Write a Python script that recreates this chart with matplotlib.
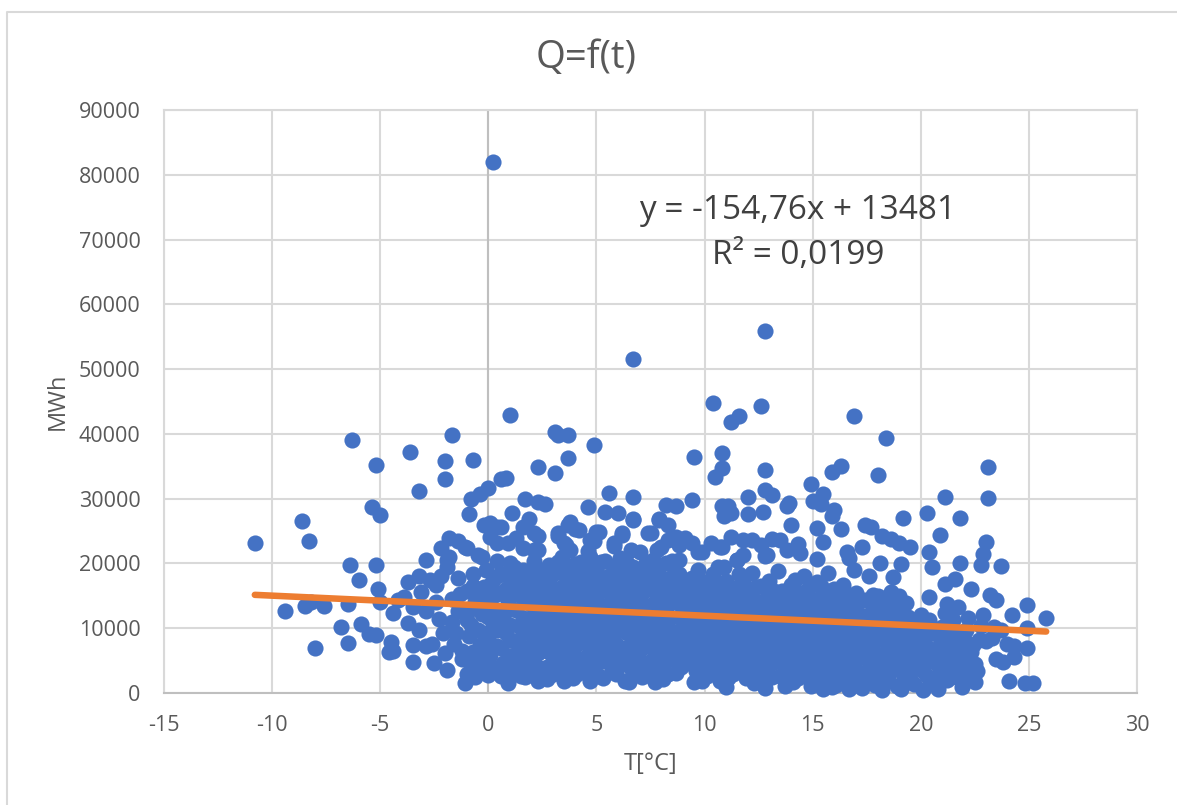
import matplotlib
matplotlib.use('Agg')
import matplotlib.pyplot as plt
from matplotlib.lines import Line2D

plt.rcParams['font.family'] = ['Open Sans', 'DejaVu Sans']
plt.rcParams['axes.unicode_minus'] = False

# scattered points above the dense area
upper = [(0.2,82000),(12.8,55900),(6.7,51500),(10.4,44700),(12.6,44300),(16.9,42700),(11.6,42700),(11.2,41900),
         (1,42900),(3.1,40300),(3.2,39900),(3.7,39900),(-1.7,39900),(-6.3,39000),(18.4,39300),(4.9,38300),
         (-3.6,37200),(10.8,37100),(9.5,36400),(3.7,36300),(-0.7,36000),(-2,35800),(-5.2,35200),(10.8,34800),
         (12.8,34500),(16.3,35000),(15.9,34100),(2.3,34900),(3.1,33900),(0.8,33200),(0.6,33100),(10.5,33300),
         (18,33700),(23.1,34900),(-2,33100),(-3.2,31200),(0.0,31600),(-0.4,30700),(-0.8,29900),(5.6,30800),
         (6.7,30300),(12.8,31400),(13.1,30500),(12,30300),(14.9,32200),(15.5,30700),(21.1,30300),(23.1,30100),
         (1.7,29900),(2.3,29500),(2.6,29200),(4.6,28700),(5.4,27900),(6,27800),(6.7,26800),(8.2,29000),
         (8.7,28800),(9.4,29800),(10.8,28800),(11.1,28900),(10.9,27400),(11.2,27800),(12,27700),(12.7,27900),
         (13.8,28800),(13.9,29300),(15,29700),(15.4,29100),(16,28200),(15.9,27300),(19.2,27000),(20.3,27800),
         (21.8,27000),(20.9,24400),(23,23300),(1.1,27800),(-0.9,27700),(-0.2,26000),(0.1,26300),(0.6,25700),
         (1.9,26900),(3.7,25900),(4,25300),(5,24800),(6.2,24400),(7.4,24700),(7.9,26800),(8.3,26000),(9.1,24000),
         (10.3,23100),(11.8,23600),(13.1,23800),(14,25900),(14.3,23000),(15.2,25500),(15.5,23300),(16.3,25300),
         (16.6,21700),(17.4,25900),(17.7,25600),(18.2,24200),(18.6,23700),(19,23200),(19.5,22600),(20.4,21700),
         (22.9,21500),(23.7,19600),(24.9,13600),(25.8,11600),(24.2,12000),(24.9,10000),(24.9,7000),(24.3,5600),
         (24.1,1800),(24.8,1500),(25.2,1600),(-2.2,22400),(-1.8,23900),(-1.4,23400),(-1,22400),(-2.9,20500),
         (-1.8,21000),(-0.3,21000),(0.4,23200),(1.3,24000),(2.3,24300),(3.2,24200),(3.6,22800),(4.6,21900),
         (5.8,22700),(7,21800),(8,22500),(8.8,22800),(9.7,21700),(10.8,22600),(11.8,21300),(12.8,21100),
         (14.4,21600),(15.2,20700),(16.7,20800),(17.3,22500),(18.1,20000),(19.1,19900),(20.5,19400),(21.8,20000),
         (22.8,19700),(22.3,16000),(23.2,15200),(23.5,14300),(21.6,17600),(21.1,16800),(20.4,14800)]

# clusters along the top edge of the cloud
top_edge = [(2.1,24700),(1.6,25600),(0.4,25600),(0.1,24100),(0.9,23200),(2.1,22000),(3.2,24700),(3.5,23100),(3.8,26400),
            (4.2,25200),(5.1,24900),(4.7,23600),(6.2,24700),(6.7,26700),(5.8,23100),(7.5,24700),(7.9,26700),(8.7,24100),
            (9.4,23100),(9.9,21800),(8.3,23600),(7.8,22100),(11.2,24100),(10.7,22500),(11.5,20500),(12.2,23600),(12.6,22800),
            (13.5,23600),(12.9,21300),(13.8,22100),(-1.9,20500),(-1.1,22500),(-0.5,21300)]

# left tail of the cloud
left_tail = [(-10.8,23200),(-8.6,26600),(-8.3,23400),(-5.4,28700),(-5.0,27500),(-6.4,19800),(-5.2,19800),(-6.0,17400),
             (-5.1,16000),(-9.4,12700),(-8.5,13400),(-8.2,14000),(-7.6,13400),(-6.5,13800),(-5.0,14000),(-6.8,10200),
             (-5.9,10700),(-5.5,9100),(-5.2,9000),(-8,6900),(-6.5,7700),(-4.5,7900),(-4.6,6400),(-4.4,6500),
             (-3.5,7400),(-3.5,4800),(-3.7,10800),(-3.2,9700),(-4.4,12400),(-4.2,14400),(-3.7,17100),(-3.2,18000),
             (-3.9,14800),(-3.5,13200),(-2.9,12700),(-3.1,15600),(-2.7,17400),(-2.4,16700),(-2.9,7200),(-2.6,7500),
             (-2.5,4700),(-2.0,6200),(-1.9,3500),(-2.1,9200),(-2.3,11500),(-2.4,14000),(-1.7,14500),(-1.4,17800),
             (-1.9,19500),(-2.2,18000),(-1.6,7500),(-1.7,11000),(-1.2,5200),(-1.1,1500),(-0.6,2400),(-0.3,3200)]

# dense part of the cloud, degree by degree
dense_a = [(-1,3000),(-1.2,6500),(-0.9,8800),(-1,11200),(-0.8,13000),(-1,15800),(-0.7,18300),(-0.5,5200),(-0.4,7400),
           (-0.5,9700),(-0.3,12200),(-0.4,14600),(-0.2,16300),(-0.1,19000),(0,2800),(0.1,5900),(0,8400),(0.2,10800),
           (0.1,13400),(0.3,15200),(0.2,17400),(0.4,20400),(0.6,2600),(0.7,4600),(0.6,7000),(0.8,9300),(0.7,11600),
           (0.9,14200),(0.8,16100),(0.7,18400),(1,20000),(0.9,1500),(1.2,3700),(1.3,5800),(1.2,8100),(1.4,10400),
           (1.3,12800),(1.5,15000),(1.4,17200),(1.2,19400),(1.6,22400),(1.7,2500),(1.8,4800),(1.7,7000),(1.9,9200),
           (1.8,11400),(2,13600),(1.9,16000),(1.8,18000),(2.1,20400),(2.3,1900),(2.4,3900),(2.3,6100),(2.5,8200),
           (2.4,10400),(2.6,12600),(2.5,14800),(2.4,17000),(2.6,19000),(2.3,22100),(2.9,2800),(3,5000),(3.1,7200),
           (2.9,9300),(3.1,11500),(3,13700),(3.2,15800),(3,18300),(3.2,20300),(3.5,1900),(3.6,3900),(3.5,6200),
           (3.7,8400),(3.6,10600),(3.8,12800),(3.6,15000),(3.8,17300),(3.6,19600),(3.8,22000),(4.1,3000),(4.2,5300),
           (4.1,7500),(4.3,9600),(4.2,11800),(4.4,14000),(4.2,16200),(4.4,18200),(4.3,20300),(4.7,1800),(4.8,4200),
           (4.7,6400),(4.9,8600),(4.8,10700),(5,12900),(4.9,15100),(4.8,17400),(5,19600),(4.9,23500)]
dense_b = [(5.3,2300),(5.4,4900),(5.3,7200),(5.5,9300),(5.4,11400),(5.6,13700),(5.4,15900),(5.6,18100),(5.4,20400),
           (5.9,2900),(6,5300),(5.9,7600),(6.1,9700),(6,11900),(6.2,14100),(6,16300),(6.2,18500),(6.1,20800),
           (6.5,1700),(6.6,3900),(6.5,6300),(6.7,8400),(6.6,10600),(6.8,12800),(6.6,15000),(6.8,17200),(6.7,19400),
           (6.6,22000),(7.1,2400),(7.2,4700),(7.1,7000),(7.3,9100),(7.2,11300),(7.4,13500),(7.2,15700),(7.4,17800),
           (7.3,20000),(7.7,1700),(7.8,3900),(7.7,6100),(7.9,8300),(7.8,10500),(8,12700),(7.8,14900),(8,17000),
           (7.9,19500),(8.3,2900),(8.4,5300),(8.3,7500),(8.5,9600),(8.4,11800),(8.6,14000),(8.4,16300),(8.6,18300),
           (8.5,20400),(8.9,4000),(9,6200),(8.9,8400),(9.1,10600),(9,12800),(9.2,15000),(9,17200),(9.5,1700),(9.6,3400),
           (9.5,5500),(9.7,7700),(9.6,9900),(9.8,12100),(9.6,14200),(9.8,16400),(9.7,19000),(10.1,2700),(10.2,4900),
           (10.1,7100),(10.3,9300),(10.2,11500),(10.4,13700),(10.2,15900),(10.4,18400),(10.7,1800),(10.8,3900),
           (10.7,6300),(10.9,8500),(10.8,10700),(11,12900),(10.8,15100),(11,17300),(10.9,19500),(11,1000),
           (11.3,3000),(11.4,5300),(11.3,7500),(11.5,9600),(11.4,11800),(11.6,14000),(11.4,16200),(11.6,18300),(11.5,20500)]
dense_c = [(11.9,2300),(12,4500),(11.9,6800),(12.1,8900),(12,11100),(12.2,13300),(12,15500),(12.2,18500),(12.5,3300),
           (12.6,5600),(12.5,7800),(12.7,10000),(12.6,12200),(12.8,14400),(12.6,16500),(12.8,700),(13.1,2400),(13.2,4800),
           (13.1,7000),(13.3,9200),(13.2,11400),(13.4,13600),(13.2,15700),(13.4,18800),(13.7,1100),(13.8,3500),(13.7,5700),
           (13.9,7900),(13.8,10100),(14,12300),(13.8,14500),(14,16600),(14.3,2300),(14.4,4600),(14.3,6800),(14.5,9000),
           (14.4,11200),(14.6,13400),(14.4,15500),(14.6,18100),(14.9,1100),(15,3300),(14.9,5500),(15.1,7700),(15,9900),
           (15.2,12100),(15,14300),(15.2,17200),(15.5,600),(15.6,2500),(15.5,4700),(15.7,6900),(15.6,9100),(15.8,11300),
           (15.6,13500),(15.8,15700),(15.7,18500),(16.1,1200),(16.2,3500),(16.1,5700),(16.3,7900),(16.2,10100),(16.4,12300),
           (16.2,14500),(16.4,16700),(16.7,600),(16.8,2500),(16.7,4700),(16.9,6900),(16.8,9100),(17,11300),(16.8,13500),
           (17,15400),(16.9,19000),(17.3,700),(17.4,3300),(17.3,5500),(17.5,7700),(17.4,9900),(17.6,12100),(17.4,14300),
           (17.6,18000),(17.9,1300),(18,3900),(17.9,6100),(18.1,8300),(18,10500),(18.2,12700),(18,15000),(18.2,500),
           (18.5,2300),(18.6,4700),(18.5,6900),(18.7,9100),(18.6,11300),(18.8,13500),(18.6,15600),(18.7,17900)]
dense_d = [(19.1,600),(19.2,3000),(19.1,5300),(19.3,7500),(19.2,9600),(19.4,11700),(19.3,13900),(19.7,1400),(19.8,3900),
           (19.7,6100),(19.9,8300),(19.8,10200),(20,12000),(20.1,500),(20.3,2700),(20.4,4900),(20.3,7100),(20.5,9300),
           (20.4,11200),(20.6,1400),(20.8,600),(20.9,3400),(20.9,5800),(21,8000),(21,10200),(21.1,12400),(21.2,13800),
           (21.4,2500),(21.5,4900),(21.5,7000),(21.6,9200),(21.5,11200),(21.7,13300),(21.9,900),(22,3200),(22,5000),
           (22.1,7800),(22.1,9700),(22.2,11600),(22.5,1700),(22.6,3400),(22.5,4500),(22.4,7400),(22.7,8200),(22.8,10300),
           (22.9,12000),(23,8000),(23.3,8500),(23.4,10200),(23.5,5300),(23.8,4800),(23.7,9800),(24,7600),(24.3,7300)]

# in-between points that close up the solid part of the cloud
fill_a = [(-1.5,9300),(-1.4,12600),(-1.3,15300),(-0.8,4300),(-0.7,6300),(-0.8,10500),(-0.6,14000),(-0.7,16500),(-0.2,4000),
          (-0.2,6700),(-0.1,9200),(0,11800),(0,14300),(0.1,16600),(0.3,3900),(0.4,7200),(0.4,9800),(0.5,12600),(0.5,15500),
          (0.5,18200),(0.9,3300),(1,5700),(1,8200),(1,10500),(1,13000),(1.1,15300),(1,17700),(1.5,2700),(1.5,4700),(1.5,7000),
          (1.6,9300),(1.6,11600),(1.7,14000),(1.7,16300),(1.6,19000),(2.1,3100),(2.1,5500),(2.1,7600),(2.2,9800),(2.2,12000),
          (2.2,14300),(2.2,16200),(2.2,18500),(2.7,2200),(2.7,4000),(2.7,6500),(2.7,8800),(2.8,10900),(2.8,13100),(2.8,15300),
          (2.8,17200),(2.8,19700),(3.3,3000),(3.3,5300),(3.3,7500),(3.4,9700),(3.4,11900),(3.4,14200),(3.4,16400),(3.4,18500),
          (3.4,21000),(3.9,2300),(3.9,4600),(3.9,6800),(4,9000),(4,11200),(4,13400),(4,15600),(4,17800),(4,19900),(4.5,3200),
          (4.5,5500),(4.5,7700),(4.5,9800),(4.6,12200),(4.6,14300),(4.6,16500),(4.6,18700),(4.7,21000),(5.1,2700),(5.1,4800),
          (5.1,7000),(5.2,9200),(5.2,11300),(5.2,13500),(5.2,15700),(5.2,17900),(5.2,20300),(5.7,3800),(5.7,6200),(5.7,8400),
          (5.8,10600),(5.8,12800),(5.8,15000),(5.8,17200),(5.8,19300),(6.3,1800),(6.3,4500),(6.3,7000),(6.4,9200),(6.4,11400),
          (6.4,13500),(6.4,15700),(6.4,17900),(6.4,20000),(6.9,3100),(6.9,5500),(6.9,7700),(7,9900),(7,12100),(7,14300),
          (7,16500),(7,18600),(7.5,2700),(7.5,4900),(7.5,7300),(7.6,9400),(7.6,11600),(7.6,13800),(7.6,16000),(7.6,18200),
          (7.6,20500),(8.1,2100),(8.1,4300),(8.1,6600),(8.2,8800),(8.2,11000),(8.2,13200),(8.2,15400),(8.2,17600),(8.2,20000),
          (8.7,3100),(8.7,5200),(8.7,7300),(8.8,9500),(8.8,11700),(8.8,13900),(8.8,16100),(8.8,18300),(8.8,20500)]
fill_b = [(9.3,4600),(9.3,6900),(9.3,9100),(9.4,11300),(9.4,13500),(9.4,15700),(9.4,17800),(9.9,1900),(9.9,3900),(9.9,6200),
          (10,8400),(10,10600),(10,12800),(10,15000),(10,17200),(10.5,3200),(10.5,5500),(10.5,7700),(10.6,9900),(10.6,12100),
          (10.6,14300),(10.6,16500),(10.6,19500),(11.1,2300),(11.1,4700),(11.1,7000),(11.2,9200),(11.2,11400),(11.2,13600),
          (11.2,15800),(11.7,3800),(11.7,6000),(11.7,8200),(11.8,10400),(11.8,12600),(11.8,14800),(11.8,17000),(12.3,1600),
          (12.3,3000),(12.3,5400),(12.4,7600),(12.4,9800),(12.4,12000),(12.4,14200),(12.4,16400),(12.9,2100),(12.9,4100),
          (12.9,6400),(13,8600),(13,10800),(13,13000),(13,15200),(13,17300),(13.5,2600),(13.5,4900),(13.5,7100),(13.6,9300),
          (13.6,11500),(13.6,13700),(13.6,15800),(14.1,1700),(14.1,3800),(14.1,6100),(14.2,8300),(14.2,10500),(14.2,12700),
          (14.2,14900),(14.2,17400),(14.7,2700),(14.7,5000),(14.7,7200),(14.8,9400),(14.8,11600),(14.8,13800),(14.8,16000),
          (15.3,1500),(15.3,3700),(15.3,6000),(15.4,8200),(15.4,10400),(15.4,12600),(15.4,14800),(15.4,16500),(15.9,900),
          (15.9,2900),(15.9,5100),(16,7300),(16,9500),(16,11700),(16,13900),(16,16000),(16.5,1900),(16.5,4000),(16.5,6300),
          (16.6,8500),(16.6,10700),(16.6,12900),(16.6,15100),(17.1,1300),(17.1,3200),(17.1,5400),(17.2,7600),(17.2,9800),
          (17.2,12000),(17.2,14200),(17.7,2300),(17.7,4500),(17.7,6700),(17.8,8900),(17.8,11100),(17.8,13300),(17.8,15200),
          (18.3,1600),(18.3,3300),(18.3,5600),(18.4,7800),(18.4,10000),(18.4,12200),(18.4,14400),(18.9,1100),(18.9,3900),
          (18.9,6100),(19,8300),(19,10500),(19,12700),(19,15000),(19.5,2200),(19.5,4700),(19.5,6900),(19.6,9100),(19.6,11200),
          (20.1,3400),(20.1,5800),(20.1,7800),(20.2,9900),(20.2,11000),(20.7,2300),(20.7,4600),(20.7,6800),(20.8,9000),
          (21.2,2000),(21.2,4300),(21.3,6500),(21.3,8800),(21.8,2100),(21.8,4000),(21.8,6200),(21.9,8300),(22.3,2700),(22.3,6400)]

# trendline from the chart label: y = -154,76x + 13481
trend_t = [-10.8, 25.8]
trend_slope = -154.76
trend_icept = 13481

x_ticks = [-15, -10, -5, 0, 5, 10, 15, 20, 25, 30]
y_ticks = [0, 10000, 20000, 30000, 40000, 50000, 60000, 70000, 80000, 90000]

fig = plt.figure(figsize=(11.77, 8.05), dpi=100)
W, H = 1177, 805
ax = fig.add_axes([164 / W, 1 - 693 / H, 973 / W, 583 / H])

# chart border, only top and left are inside the screenshot
fig.add_artist(Line2D([7 / W, 7 / W, 1], [0, 1 - 12 / H, 1 - 12 / H], transform=fig.transFigure,
                      color='#D9D9D9', lw=1.5))

pts = upper + top_edge + left_tail + dense_a + dense_b + dense_c + dense_d + fill_a + fill_b
xs = [p[0] for p in pts]
ys = [p[1] for p in pts]

ax.scatter(xs, ys, s=135, color='#4472C4', linewidths=0, zorder=3, clip_on=False)
trend_q = [trend_slope * t + trend_icept for t in trend_t]
ax.plot(trend_t, trend_q, color='#ED7D31', lw=4.7, solid_capstyle='round', zorder=4)

ax.set_xlim(-15, 30)
ax.set_ylim(0, 90000)
ax.set_xticks(x_ticks)
ax.set_yticks(y_ticks)
ax.grid(True, color='#D9D9D9', lw=1.5, zorder=0)
ax.set_axisbelow(True)
ax.axvline(0, color='#BFBFBF', lw=1.5, zorder=1)
for s in ['top', 'right', 'left']:
    ax.spines[s].set_color('#D9D9D9')
    ax.spines[s].set_linewidth(1.5)
ax.spines['bottom'].set_color('#BFBFBF')
ax.spines['bottom'].set_linewidth(1.5)
ax.tick_params(axis='x', length=0, labelsize=15.5, labelcolor='#595959', pad=16)
ax.tick_params(axis='y', length=0, labelsize=15.5, labelcolor='#595959', pad=17)

ax.set_xlabel('T[°C]', fontsize=17, color='#595959', labelpad=11)
ax.set_ylabel('MWh', fontsize=17, color='#595959', labelpad=6)
fig.text(586 / W, 1 - 58 / H, 'Q=f(t)', fontsize=27.5, color='#595959', ha='center', va='center')
fig.text(798 / W, 1 - 210 / H, 'y = -154,76x + 13481', fontsize=24, color='#404040', ha='center', va='center')
fig.text(798 / W, 1 - 255 / H, 'R² = 0,0199', fontsize=24, color='#404040', ha='center', va='center')

fig.savefig('out.png', dpi=100)
